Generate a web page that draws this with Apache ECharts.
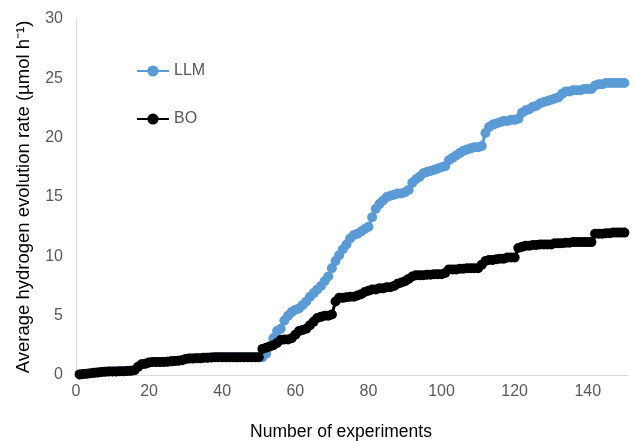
<!DOCTYPE html>
<html>
<head>
<meta charset="utf-8">
<script src="https://cdn.jsdelivr.net/npm/echarts@6/dist/echarts.min.js"></script>
<style>
html,body{margin:0;padding:0;background:#fff;}
#main{width:636px;height:441px;}
</style>
</head>
<body>
<div id="main"></div>
<script>
// number of experiments 1..150
var experiments = [];
for (var i = 1; i <= 150; i++) experiments.push(i);

// BO
var boValues = [
  0.05,0.08,0.1,0.15,0.18,0.22,0.25,0.28,0.3,0.3,
  0.3,0.32,0.32,0.33,0.35,0.4,0.7,0.9,0.95,1.05,
  1.1,1.1,1.1,1.1,1.12,1.15,1.18,1.2,1.25,1.35,
  1.4,1.4,1.42,1.42,1.45,1.45,1.48,1.5,1.5,1.5,
  1.5,1.5,1.5,1.5,1.5,1.5,1.5,1.5,1.5,1.5,
  2.2,2.3,2.4,2.5,2.7,2.95,3.0,3.0,3.1,3.4,
  3.7,3.8,3.9,4.2,4.5,4.8,4.9,5.0,5.0,5.1,
  6.2,6.5,6.5,6.55,6.6,6.6,6.7,6.8,7.0,7.1,
  7.2,7.2,7.3,7.3,7.4,7.4,7.5,7.7,7.8,7.9,
  8.1,8.3,8.4,8.4,8.4,8.45,8.45,8.5,8.5,8.5,
  8.6,8.9,8.9,8.9,8.95,8.95,9.0,9.0,9.0,9.0,
  9.3,9.6,9.7,9.7,9.75,9.8,9.8,9.9,9.9,9.9,
  10.7,10.8,10.9,10.9,10.95,10.95,11.0,11.0,11.0,11.0,
  11.1,11.1,11.1,11.15,11.15,11.2,11.2,11.2,11.2,11.2,
  11.2,11.9,11.9,11.9,11.95,11.95,12.0,12.0,12.0,12.0
];

// LLM (hidden under BO up to 50)
var llmValues = [
  0.05,0.08,0.1,0.15,0.18,0.22,0.25,0.28,0.3,0.3,
  0.3,0.32,0.32,0.33,0.35,0.4,0.7,0.9,0.95,1.05,
  1.1,1.1,1.1,1.1,1.12,1.15,1.18,1.2,1.25,1.35,
  1.4,1.4,1.42,1.42,1.45,1.45,1.48,1.5,1.5,1.5,
  1.5,1.5,1.5,1.5,1.5,1.5,1.5,1.5,1.5,1.5,
  1.5,1.8,2.4,3.1,3.7,3.9,4.6,5.0,5.3,5.5,
  5.6,5.9,6.2,6.6,6.9,7.2,7.5,7.9,8.3,9.0,
  9.6,10.1,10.6,11.0,11.5,11.8,11.9,12.1,12.3,12.5,
  13.3,14.0,14.4,14.7,15.0,15.1,15.2,15.3,15.3,15.4,
  15.6,16.2,16.5,16.7,17.0,17.1,17.2,17.3,17.4,17.5,
  17.6,18.1,18.3,18.5,18.7,18.9,19.0,19.1,19.2,19.2,
  19.3,20.4,20.9,21.1,21.2,21.3,21.4,21.4,21.5,21.5,
  21.6,22.1,22.3,22.4,22.6,22.7,22.9,23.0,23.1,23.2,
  23.3,23.4,23.7,23.9,23.9,24.0,24.0,24.0,24.1,24.1,
  24.1,24.4,24.5,24.5,24.6,24.6,24.6,24.6,24.6,24.6
];

function pairs(xs, ys){
  var out = [];
  for (var i = 0; i < xs.length; i++) out.push([xs[i], ys[i]]);
  return out;
}

var myChart = echarts.init(document.getElementById('main'));
var option = {
  animation: false,
  textStyle: { fontFamily: 'Liberation Sans, Arial, sans-serif' },
  grid: { left: 76, right: 8, top: 19, bottom: 66, outerBoundsMode: 'none' },
  legend: {
    orient: 'vertical',
    left: 136, top: 63, padding: 0,
    itemWidth: 32, itemHeight: 14, itemGap: 32,
    textStyle: { fontSize: 16, color: '#595959' },
    data: ['LLM', 'BO']
  },
  xAxis: {
    type: 'value',
    min: 0, max: 151, interval: 20,
    name: 'Number of experiments',
    nameLocation: 'middle',
    nameGap: 48,
    nameTextStyle: { fontSize: 17.5, color: '#000', padding: [0, 22, 0, 0] },
    axisLine: { lineStyle: { color: '#d9d9d9', width: 1 } },
    axisTick: { show: false },
    splitLine: { show: false },
    axisLabel: { fontSize: 16, color: '#595959', margin: 9, showMaxLabel: false }
  },
  yAxis: {
    type: 'value',
    min: 0, max: 30, interval: 5,
    name: 'Average hydrogen evolution rate (µmol h⁻¹)',
    nameLocation: 'middle',
    nameGap: 43,
    nameTextStyle: { fontSize: 18.5, color: '#000' },
    axisLine: { show: true, lineStyle: { color: '#d9d9d9', width: 1 } },
    axisTick: { show: false },
    splitLine: { show: false },
    axisLabel: { fontSize: 16, color: '#595959', margin: 13 }
  },
  series: [
    {
      name: 'LLM', type: 'line',
      data: pairs(experiments, llmValues),
      symbol: 'circle', symbolSize: 10,
      itemStyle: { color: '#5b9bd5' },
      lineStyle: { color: '#5b9bd5', width: 3 }
    },
    {
      name: 'BO', type: 'line',
      data: pairs(experiments, boValues),
      symbol: 'circle', symbolSize: 10,
      itemStyle: { color: '#000' },
      lineStyle: { color: '#000', width: 3 }
    }
  ]
};
myChart.setOption(option);
</script>
</body>
</html>
